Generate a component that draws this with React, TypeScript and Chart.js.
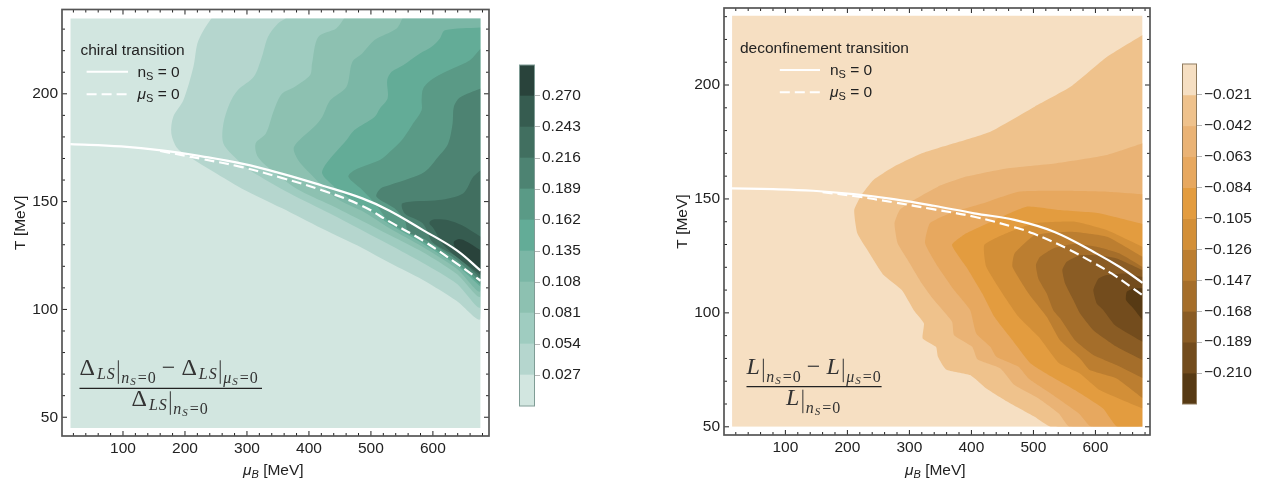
import React, { useEffect, useRef } from "react";
import { Chart, registerables } from "chart.js";

Chart.register(...registerables);

type Pt = [number, number];

// ---------- left panel: chiral transition ----------
const chiralFull: Pt[] = [[15, 45], [677, 45], [677, 235], [15, 235]];
const chiralBand1: Pt[] = [[243, 235], [230, 229.5], [220, 223.3], [213.6, 212.5], [197.4, 197], [181, 189.3], [178, 181.6], [187.7, 174.7], [207, 170.8], [246, 163.8], [292, 156], [356, 147], [421, 137.5], [486, 128.5], [530, 121.6], [584, 113.6], [638, 104], [677, 96], [677, 235]];
const chiralBand2: Pt[] = [[363, 235], [350, 232.6], [333.8, 226.4], [324, 217.1], [311, 207.9], [285, 201.7], [272, 195.5], [262, 186.2], [262, 177], [285, 169.3], [304.5, 164.6], [369.5, 153.8], [434, 144.5], [530, 130], [584, 121.5], [638, 112], [677, 101.5], [677, 235]];
const chiralBand3: Pt[] = [[457, 235], [444, 230.3], [415, 226.4], [405, 214], [402, 208.7], [376, 203], [356.5, 200], [343.5, 192.4], [330.5, 181.6], [314, 177], [317.5, 170.8], [340, 164.5], [380, 156], [434, 148.5], [486, 141], [530, 134.5], [584, 126.5], [638, 116.5], [677, 106.5], [677, 235]];
const chiralBand4: Pt[] = [[551, 235], [541.6, 230.3], [505.8, 224.9], [486, 218.7], [470, 214.8], [460.4, 203.2], [434.4, 197], [421.4, 189.3], [408.4, 184.7], [376, 175.4], [382.5, 169.3], [402, 163], [430, 155], [450, 150.5], [490, 145], [530, 137.7], [584, 129], [638, 119], [677, 109], [677, 235]];
const chiralBand5: Pt[] = [[677, 230.8], [619.4, 229.5], [611.3, 225.7], [598, 221.8], [579, 218.7], [552, 213.3], [533.4, 210.2], [526.3, 206.4], [527, 197.9], [514.5, 193.2], [505.8, 189.3], [473.4, 183.2], [460.4, 178.5], [428, 167.7], [421.4, 163], [441, 156.9], [470, 150.5], [500, 145.5], [530, 139.5], [584, 130.5], [638, 120.5], [677, 110.5]];
const chiralBand6: Pt[] = [[677, 221], [659.7, 215.6], [632.8, 211.8], [600.5, 207.1], [584.4, 202.5], [581.8, 197.1], [581.8, 192.4], [568.2, 186.3], [552, 179.3], [530.6, 173.1], [514.5, 169.3], [473.4, 164.6], [463.6, 161.5], [486, 155.4], [510, 148], [530, 140.5], [584, 131.5], [638, 121.5], [677, 111.5]];
const chiralBand7: Pt[] = [[677, 202.5], [643.5, 198.3], [633.8, 194], [631.8, 186.3], [624.7, 177], [608.6, 170.8], [587, 163.8], [563, 160.8], [530.6, 157.7], [515.6, 156.1], [509, 152.3], [538, 146.9], [555, 141], [560, 136], [584, 133], [638, 123], [677, 113]];
const chiralBand8: Pt[] = [[677, 164.6], [665, 161.5], [648.7, 153.8], [609.7, 150.7], [551, 149.2], [554.5, 144.5], [583.8, 139.9], [600, 131], [638, 124.5], [677, 114.5]];
const chiralBand9: Pt[] = [[677, 133.7], [646, 139.1], [624.7, 141.4], [603, 141.8], [595, 140.7], [595, 139.5], [600, 138], [620, 129], [677, 116]];
const chiralBand10: Pt[] = [[677, 127.5], [651.6, 131.9], [641, 132.6], [633.8, 131.4], [635.5, 129], [660, 122.5], [677, 117]];
const chiralBands = [chiralFull, chiralBand1, chiralBand2, chiralBand3, chiralBand4, chiralBand5, chiralBand6, chiralBand7, chiralBand8, chiralBand9, chiralBand10];
const chiralColors = ["#d2e6e0", "#b5d6ce", "#9fccc0", "#8dc1b1", "#7bb7a6", "#63ac97", "#5a9a86", "#4d8372", "#416f60", "#365c50", "#29433b"];
const chiralNs0: Pt[] = [[15, 176.7], [97, 175.6], [162, 173.8], [227, 171], [292, 167.6], [356, 163], [421, 157.5], [486, 151.5], [530, 145.8], [584, 136.8], [638, 127.5], [677, 118]];
const chiralMuS0: Pt[] = [[160, 173.5], [227, 169.8], [292, 166], [356, 161], [421, 155.3], [486, 148], [530, 140.7], [584, 131.9], [638, 121.4], [677, 113.3]];
const chiralTicks = [0, 0.027, 0.054, 0.081, 0.108, 0.135, 0.162, 0.189, 0.216, 0.243, 0.27, 0.297];

// ---------- right panel: deconfinement transition ----------
const deconfFull: Pt[] = [[14, 50], [676, 50], [676, 230.5], [14, 230.5]];
const deconfBand1: Pt[] = [[676, 222], [618.8, 212.4], [560.4, 199.3], [502, 190.5], [430.5, 179.5], [372, 174.4], [320, 170], [274.7, 164.1], [242, 158.3], [222.7, 151.7], [211, 145.1], [216, 134.9], [235.7, 126.1], [258.4, 116.6], [287.7, 110], [307, 101.2], [323.4, 95.4], [321.4, 88.8], [342.9, 85.1], [346, 80.7], [359, 75.2], [398, 72.7], [424, 66.8], [463, 60.2], [502, 54.4], [528, 50], [676, 50]];
const deconfBand2: Pt[] = [[676, 174.4], [618.8, 169.3], [534.4, 165.6], [456.5, 163.4], [391.6, 159.8], [346, 155.4], [307, 149.5], [284.4, 145.1], [276, 139.3], [281, 130.5], [300.6, 121.7], [320, 112.9], [339.6, 105.6], [368.8, 96.1], [372, 90.2], [401.3, 85.1], [409.7, 79.6], [446.8, 75.6], [469.5, 68.3], [508.4, 62.4], [541, 55.8], [558, 50], [676, 50]];
const deconfBand3: Pt[] = [[676, 152.1], [618.8, 153.2], [547.4, 153.6], [476, 153.2], [417.5, 148], [365.6, 143.7], [333, 139.3], [325.3, 130.5], [346, 120.2], [372, 110], [398, 101.2], [407.8, 91], [430.5, 85.1], [440.3, 80.7], [476, 76.3], [492, 71.2], [528, 64.6], [573.4, 55.8], [593, 50], [676, 50]];
const deconfBand4: Pt[] = [[676, 139], [605.8, 143.7], [540.9, 145.1], [489, 146.6], [437, 140.7], [391.6, 134.9], [368.8, 129.8], [391.6, 120.2], [417.5, 108.5], [437, 98.3], [466.2, 88], [495.5, 77.8], [534.4, 71.2], [566.9, 66.1], [612.3, 58], [635, 50], [676, 50]];
const deconfBand5: Pt[] = [[676, 129], [618.8, 136.3], [567, 140], [502, 139.3], [456.5, 134.9], [420.8, 129.8], [424, 120.2], [450, 108.5], [476, 98.3], [508.4, 89.5], [541, 78], [575, 73.4], [607, 66.1], [676, 58]];
const deconfBand6: Pt[] = [[676, 124.6], [618.8, 133.4], [560.4, 135.6], [502, 134.1], [469.5, 126.1], [466.2, 120.2], [492.2, 108.5], [521.4, 98.3], [543, 88], [575, 80], [591, 74.9], [634, 71.2], [676, 62.6]];
const deconfBand7: Pt[] = [[676, 120.2], [639.7, 126], [602, 129], [564.4, 130.2], [532, 128.3], [510.6, 124.6], [504, 121], [508, 115], [521.4, 108.5], [532, 101.2], [543, 97.6], [567, 88], [596.6, 81.5], [634, 77.1], [676, 71.4]];
const deconfBand8: Pt[] = [[676, 118.8], [634.3, 123.9], [602, 125.3], [575, 125.3], [553.6, 122.4], [546.6, 118.8], [551, 112.9], [564.4, 105.6], [575, 99.8], [596.6, 92.4], [634.3, 85.1], [676, 79.3]];
const deconfBand9: Pt[] = [[676, 115.8], [645, 117.3], [618, 116.6], [604.7, 115], [596.6, 110], [602, 104.1], [612.8, 101.2], [631.6, 94.6], [676, 87.3]];
const deconfBand10: Pt[] = [[676, 110.7], [661, 110.7], [650.4, 109.2], [649.3, 105.6], [661, 102], [676, 96.8]];
const deconfBands = [deconfFull, deconfBand1, deconfBand2, deconfBand3, deconfBand4, deconfBand5, deconfBand6, deconfBand7, deconfBand8, deconfBand9, deconfBand10];
const deconfColors = ["#f6dfc2", "#efc28c", "#eab375", "#e7a85f", "#e39c3f", "#d38f37", "#bc7e30", "#a56e2a", "#8a5c24", "#734c1d", "#573a14"];
const deconfNs0: Pt[] = [[13.6, 154.6], [80, 154.3], [144.8, 153.6], [209.7, 152.1], [274.7, 149.9], [339.6, 147], [404.5, 143.7], [469.5, 140.8], [534, 135.5], [602, 126], [640, 120], [676, 113.2]];
const deconfMuS0: Pt[] = [[160, 153], [210, 151.3], [275, 148.5], [340, 145.4], [404.5, 142.2], [470, 137.5], [500, 134.8], [553.6, 128.3], [600, 121.5], [626, 117.3], [676, 107.8]];
const deconfTicks = [0, -0.021, -0.042, -0.063, -0.084, -0.105, -0.126, -0.147, -0.168, -0.189, -0.21, -0.231];

// ---------- text ----------
const SANS = '"Liberation Sans", Arial, sans-serif';
const SERIF = '"Liberation Serif", "Times New Roman", serif';
const INK = "#222222";
const chiralLegendTitle = "chiral transition";
const deconfLegendTitle = "deconfinement transition";
const yTitle = "T [MeV]";

type Run = { t?: string; font?: string; dy?: number; gap?: number; bar?: boolean };

function drawRuns(ctx: CanvasRenderingContext2D, x: number, y: number, runs: Run[]) {
  ctx.textAlign = "left";
  ctx.textBaseline = "alphabetic";
  for (const r of runs) {
    if (r.bar) {
      ctx.save();
      ctx.strokeStyle = "#333";
      ctx.lineWidth = 1;
      ctx.beginPath();
      ctx.moveTo(x + 2.5, y - 15);
      ctx.lineTo(x + 2.5, y + 8.5);
      ctx.stroke();
      ctx.restore();
      x += 5.5;
      continue;
    }
    ctx.font = r.font as string;
    ctx.fillText(r.t as string, x, y + (r.dy || 0));
    x += ctx.measureText(r.t as string).width + (r.gap || 0);
  }
}

const big = `24px ${SERIF}`;
const bigIt = `italic 24px ${SERIF}`;
const sub = `italic 16px ${SERIF}`;
const subUp = `16px ${SERIF}`;
const subsub = `italic 11px ${SERIF}`;
const nSub: Run[] = [{ bar: true }, { t: "n", font: sub, dy: 8, gap: 1 }, { t: "S", font: subsub, dy: 10, gap: 2 }, { t: "=", font: subUp, dy: 8, gap: 1 }, { t: "0", font: subUp, dy: 8 }];
const muSub: Run[] = [{ bar: true }, { t: "μ", font: sub, dy: 8, gap: 1 }, { t: "S", font: subsub, dy: 10, gap: 2 }, { t: "=", font: subUp, dy: 8, gap: 1 }, { t: "0", font: subUp, dy: 8 }];
const deltaHead: Run[] = [{ t: "Δ", font: big, gap: 2 }, { t: "L", font: sub, dy: 3.5, gap: 1 }, { t: "S", font: sub, dy: 3.5, gap: 1 }];
const lHead: Run[] = [{ t: "L", font: bigIt, gap: 1 }];
const minusRun: Run[] = [{ t: " − ", font: big }];

function legendRuns(first: string, firstFont: string): Run[] {
  return [
    { t: first, font: firstFont },
    { t: "S", font: `11px ${SANS}`, dy: 3 },
    { t: " = 0", font: `15.5px ${SANS}` },
  ];
}

type PanelText = {
  title: string; titleX: number; titleY: number;
  sampleX0: number; sampleX1: number; sampleY0: number; sampleY1: number; labelX: number;
  head: Run[]; fracX: number; fracX1: number; fracY: number; denomX: number; xTitleX: number;
};

function panelPlugin(p: PanelText, fill: number[]) {
  return {
    id: "panelFrame",
    afterDatasetsDraw(chart: any) {
      const { ctx, chartArea: a, scales } = chart;
      const xs = scales.x, ys = scales.y;
      const [fx0, fx1, fy0, fy1] = fill;
      const l = xs.getPixelForValue(fx0), r = xs.getPixelForValue(fx1);
      const b = ys.getPixelForValue(fy0), t = ys.getPixelForValue(fy1);
      ctx.save();
      ctx.fillStyle = "#ffffff";
      ctx.fillRect(a.left, a.top, l - a.left, a.bottom - a.top);
      ctx.fillRect(r, a.top, a.right - r, a.bottom - a.top);
      ctx.fillRect(a.left, a.top, a.right - a.left, t - a.top);
      ctx.fillRect(a.left, b, a.right - a.left, a.bottom - b);
      ctx.strokeStyle = "#222";
      ctx.lineWidth = 1;
      for (const tk of xs.ticks) {
        const px = xs.getPixelForValue(tk.value);
        const len = tk.value % 100 === 0 ? 5 : 3;
        ctx.beginPath();
        ctx.moveTo(px, a.bottom); ctx.lineTo(px, a.bottom - len);
        ctx.moveTo(px, a.top); ctx.lineTo(px, a.top + len);
        ctx.stroke();
      }
      for (const tk of ys.ticks) {
        const py = ys.getPixelForValue(tk.value);
        const len = tk.value % 50 === 0 ? 5 : 3;
        ctx.beginPath();
        ctx.moveTo(a.left, py); ctx.lineTo(a.left + len, py);
        ctx.moveTo(a.right, py); ctx.lineTo(a.right - len, py);
        ctx.stroke();
      }
      ctx.strokeStyle = "#555555";
      ctx.lineWidth = 1.7;
      ctx.strokeRect(a.left, a.top, a.right - a.left, a.bottom - a.top);
      ctx.restore();
    },
    afterDraw(chart: any) {
      const { ctx } = chart;
      const off = chart.canvas.getBoundingClientRect().left;
      ctx.save();
      ctx.fillStyle = INK;
      ctx.font = `15.5px ${SANS}`;
      ctx.textBaseline = "alphabetic";
      ctx.textAlign = "left";
      ctx.fillText(p.title, p.titleX - off, p.titleY);
      ctx.strokeStyle = "#ffffff";
      ctx.lineWidth = 2;
      ctx.beginPath();
      ctx.moveTo(p.sampleX0 - off, p.sampleY0); ctx.lineTo(p.sampleX1 - off, p.sampleY0);
      ctx.stroke();
      ctx.setLineDash([10, 5]);
      ctx.beginPath();
      ctx.moveTo(p.sampleX0 - off, p.sampleY1); ctx.lineTo(p.sampleX1 - off, p.sampleY1);
      ctx.stroke();
      ctx.setLineDash([]);
      drawRuns(ctx, p.labelX - off, p.sampleY0 + 5, legendRuns("n", `15.5px ${SANS}`));
      drawRuns(ctx, p.labelX - off, p.sampleY1 + 5, legendRuns("μ", `italic 15.5px ${SANS}`));

      ctx.fillStyle = "#333333";
      drawRuns(ctx, p.fracX - off, p.fracY - 13, [...p.head, ...nSub, ...minusRun, ...p.head, ...muSub]);
      ctx.strokeStyle = "#222";
      ctx.lineWidth = 1.2;
      ctx.beginPath();
      ctx.moveTo(p.fracX - off, p.fracY); ctx.lineTo(p.fracX1 - off, p.fracY);
      ctx.stroke();
      drawRuns(ctx, p.denomX - off, p.fracY + 18, [...p.head, ...nSub]);

      ctx.fillStyle = INK;
      drawRuns(ctx, p.xTitleX - off, 475, [
        { t: "μ", font: `italic 15.5px ${SANS}` },
        { t: "B", font: `italic 11px ${SANS}`, dy: 3 },
        { t: " [MeV]", font: `15.5px ${SANS}` },
      ]);
      ctx.restore();
    },
  };
}

function panelConfig(
  bands: Pt[][], colors: string[], solid: Pt[], dashed: Pt[],
  xMin: number, xMax: number, yMin: number, yMax: number,
  top: number, axisH: number, text: PanelText, tension: number,
) {
  const toXY = (pts: Pt[]) => pts.map(([x, y]) => ({ x, y }));
  const datasets: any[] = bands.map((pts, i) => ({
    data: toXY(pts),
    showLine: true,
    fill: "shape",
    backgroundColor: colors[i],
    borderColor: "transparent",
    borderWidth: 0,
    pointRadius: 0,
    tension: i === 0 ? 0 : tension,
    order: 100 - i,
  }));
  datasets.push({ data: toXY(solid), showLine: true, fill: false, borderColor: "#ffffff", borderWidth: 2.2, tension: 0.4, pointRadius: 0, order: 1 });
  datasets.push({ data: toXY(dashed), showLine: true, fill: false, borderColor: "#ffffff", borderWidth: 2.2, borderDash: [10, 5], tension: 0.4, pointRadius: 0, order: 0 });
  const full = bands[0];
  const fillBounds = [full[0][0], full[1][0], full[0][1], full[2][1]];
  return {
    type: "scatter",
    data: { datasets },
    options: {
      animation: false,
      responsive: false,
      maintainAspectRatio: false,
      layout: { padding: { top, right: 16, left: 0, bottom: 0 } },
      plugins: { legend: { display: false }, tooltip: { enabled: false } },
      scales: {
        x: {
          type: "linear", min: xMin, max: xMax,
          grid: { display: false, drawTicks: false, tickLength: 0 }, border: { display: false },
          afterFit: (s: any) => { s.height = axisH; s.paddingLeft = 0; s.paddingRight = 0; },
          ticks: {
            stepSize: 20, includeBounds: false, autoSkip: false, maxRotation: 0, padding: 3,
            color: INK, font: { family: SANS, size: 15.5 },
            callback: (v: number) => (v % 100 === 0 ? String(v) : ""),
          },
        },
        y: {
          type: "linear", min: yMin, max: yMax,
          grid: { display: false, drawTicks: false, tickLength: 0 }, border: { display: false },
          afterFit: (s: any) => { s.width = 62; s.paddingTop = 0; s.paddingBottom = 0; },
          title: { display: true, text: yTitle, color: INK, font: { family: SANS, size: 15.5 }, padding: { top: 11, bottom: 0 } },
          ticks: {
            stepSize: 10, includeBounds: false, autoSkip: false, padding: 4,
            color: INK, font: { family: SANS, size: 15.5 },
            callback: (v: number) => (v % 50 === 0 ? String(v) : ""),
          },
        },
      },
    },
    plugins: [panelPlugin(text, fillBounds)],
  };
}

function barConfig(ticks: number[], colors: string[], labels: (v: number) => string, frame: string, top: number, bottom: number, left: number, axisW: number) {
  const step = Math.abs(ticks[1] - ticks[0]);
  const lo = Math.min(...ticks), hi = Math.max(...ticks);
  const datasets = colors.map((c, i) => ({
    data: [[ticks[i], ticks[i + 1]]],
    backgroundColor: c,
    borderWidth: 0,
    grouped: false,
    barPercentage: 1,
    categoryPercentage: 1,
  }));
  const isEnd = (v: number) => Math.abs(v - lo) < step / 4 || Math.abs(v - hi) < step / 4;
  return {
    type: "bar",
    data: { labels: [""], datasets },
    options: {
      animation: false,
      responsive: false,
      maintainAspectRatio: false,
      layout: { padding: { top, bottom, left, right: 0 } },
      plugins: { legend: { display: false }, tooltip: { enabled: false } },
      scales: {
        x: { display: false },
        y: {
          position: "right", min: lo, max: hi,
          border: { display: false },
          afterFit: (s: any) => { s.width = axisW; s.paddingTop = 0; s.paddingBottom = 0; },
          grid: {
            drawOnChartArea: false, drawTicks: true, tickLength: 5,
            tickColor: (c: any) => (c.tick && isEnd(c.tick.value) ? "transparent" : "#b5b5b5"),
          },
          ticks: {
            stepSize: step, autoSkip: false, padding: 2,
            color: INK, font: { family: SANS, size: 15.5 },
            callback: (v: number) => (isEnd(v) ? "" : labels(v)),
          },
        },
      },
    },
    plugins: [{
      id: "barFrame",
      afterDatasetsDraw(chart: any) {
        const { ctx, chartArea: a } = chart;
        ctx.save();
        ctx.strokeStyle = frame;
        ctx.lineWidth = 1;
        ctx.strokeRect(a.left + 0.5, a.top, a.right - a.left - 1, a.bottom - a.top);
        ctx.restore();
      },
    }],
  };
}

const leftText: PanelText = {
  title: chiralLegendTitle, titleX: 80.5, titleY: 55, sampleX0: 86.6, sampleX1: 128, sampleY0: 71.7, sampleY1: 94.3, labelX: 137.5,
  head: deltaHead, fracX: 79.5, fracX1: 262, fracY: 388.3, denomX: 131.5, xTitleX: 243,
};
const rightText: PanelText = {
  title: deconfLegendTitle, titleX: 740, titleY: 53, sampleX0: 779.8, sampleX1: 820, sampleY0: 70, sampleY1: 92.3, labelX: 830,
  head: lHead, fracX: 746.5, fracX1: 881.6, fracY: 386.7, denomX: 786, xTitleX: 905,
};

function Plot({ config, left, width }: { config: any; left: number; width: number }) {
  const ref = useRef<HTMLCanvasElement>(null);
  useEffect(() => {
    const chart = new Chart(ref.current as HTMLCanvasElement, config);
    return () => chart.destroy();
  }, [config]);
  return <canvas ref={ref} width={width} height={479} style={{ position: "absolute", left, top: 0, width, height: 479, display: "block" }} />;
}

const leftConfig = panelConfig(chiralBands, chiralColors, chiralNs0, chiralMuS0, 1.6, 690.5, 41.3, 239.1, 9.5, 43, leftText, 0.3);
const rightConfig = panelConfig(deconfBands, deconfColors, deconfNs0, deconfMuS0, 1.0, 688, 46.4, 233.8, 8, 44, rightText, 0.15);
const leftBar = barConfig(chiralTicks, chiralColors, (v) => v.toFixed(3), "#7f9c95", 65, 73, 9, 55);
const rightBar = barConfig(deconfTicks, deconfColors, (v) => "−" + Math.abs(v).toFixed(3), "#8f7a5c", 64, 75, 9, 67);

export default function App() {
  return (
    <div style={{ position: "fixed", left: 0, top: 0, width: 1264, height: 479, background: "#fff", overflow: "hidden" }}>
      <Plot config={leftConfig} left={0} width={505} />
      <Plot config={leftBar} left={510} width={80} />
      <Plot config={rightConfig} left={662} width={504} />
      <Plot config={rightBar} left={1173} width={91} />
    </div>
  );
}
